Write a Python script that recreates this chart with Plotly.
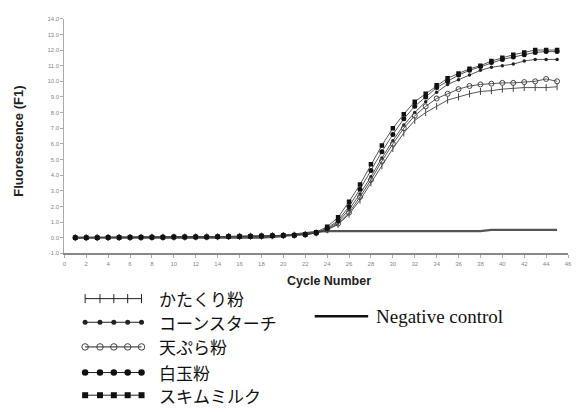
import plotly.graph_objects as go

# PCR cycles
cycles = list(range(1, 46))

# shared flat baseline for cycles 1-22
base = [0.0, 0.0, 0.0, 0.01, 0.01, 0.02, 0.02, 0.03, 0.03, 0.04, 0.04,
        0.05, 0.05, 0.06, 0.07, 0.08, 0.09, 0.10, 0.12, 0.14, 0.16, 0.20]

katakuri = base + [0.30, 0.50, 0.85, 1.5, 2.4, 3.5, 4.6, 5.7, 6.7, 7.5, 8.0,
                   8.4, 8.8, 9.0, 9.2, 9.35, 9.4, 9.5, 9.55, 9.6, 9.6, 9.6, 9.65]
cornstarch = base + [0.30, 0.55, 1.0, 1.8, 2.8, 3.9, 5.1, 6.2, 7.2, 8.0, 8.7,
                     9.3, 9.8, 10.1, 10.4, 10.7, 10.9, 11.0, 11.1, 11.3, 11.4, 11.4, 11.4]
tempura = base + [0.30, 0.50, 0.9, 1.6, 2.6, 3.7, 4.9, 6.0, 7.0, 7.8, 8.4,
                  8.9, 9.2, 9.5, 9.7, 9.8, 9.85, 9.9, 9.9, 9.95, 10.0, 10.15, 10.0]
shiratama = base + [0.30, 0.60, 1.1, 2.0, 3.1, 4.3, 5.5, 6.6, 7.6, 8.4, 9.0,
                    9.6, 10.0, 10.4, 10.7, 10.95, 11.2, 11.4, 11.55, 11.7, 11.85, 11.9, 11.9]
skim = base + [0.35, 0.70, 1.3, 2.3, 3.4, 4.7, 5.9, 7.0, 7.9, 8.7, 9.2,
               9.75, 10.2, 10.5, 10.8, 11.0, 11.3, 11.5, 11.7, 11.85, 12.0, 12.0, 12.0]
negative = [0.0] * 18 + [0.05, 0.1, 0.2, 0.3, 0.38, 0.42, 0.42, 0.42, 0.42, 0.42,
                         0.42, 0.42, 0.42, 0.42, 0.42, 0.42, 0.42, 0.42, 0.42, 0.42,
                         0.5, 0.5, 0.5, 0.5, 0.5, 0.5, 0.5]

names = ["かたくり粉", "コーンスターチ", "天ぷら粉", "白玉粉", "スキムミルク"]
series = [katakuri, cornstarch, tempura, shiratama, skim]
x_ticks = list(range(0, 47, 2))
y_ticks = list(range(-1, 15))

styles = [
    dict(symbol="line-ns-open", size=5, line=dict(width=1, color="#333")),
    dict(symbol="circle", size=3.5, color="#222"),
    dict(symbol="circle-open", size=5, color="#444", line=dict(width=1, color="#444")),
    dict(symbol="circle", size=5, color="#111"),
    dict(symbol="square", size=4.5, color="#111"),
]

W, H = 576, 412
# plot area in pixels
PL, PR, PT, PB = 63, 572, 16, 254

fig = go.Figure()

fig.add_trace(go.Scatter(x=cycles, y=negative, mode="lines",
                         line=dict(color="#555", width=2.2), showlegend=False))
for vals, st in zip(series, styles):
    fig.add_trace(go.Scatter(x=cycles, y=vals, mode="lines+markers",
                             line=dict(color="#444", width=0.9),
                             marker=st, showlegend=False))

# legend glyphs drawn on a pixel-space overlay axis
glyph_x = [84, 99, 113, 127, 141]
row_y = [300, 324, 349, 375, 398]
for name, st, gy in zip(names, styles, row_y):
    gst = dict(st)
    gst["size"] = st["size"] + 1.5
    fig.add_trace(go.Scatter(x=glyph_x, y=[gy] * len(glyph_x), mode="lines+markers",
                             line=dict(color="#222", width=1), marker=gst,
                             xaxis="x2", yaxis="y2", showlegend=False, hoverinfo="skip"))
    fig.add_annotation(x=157, y=gy, xref="x2", yref="y2", text=name, showarrow=False,
                       xanchor="left", yanchor="middle",
                       font=dict(family="Noto Sans CJK JP", size=17, color="#111"))
fig.add_trace(go.Scatter(x=[316, 370], y=[318, 318], mode="lines",
                         line=dict(color="#111", width=2.5),
                         xaxis="x2", yaxis="y2", showlegend=False, hoverinfo="skip"))
fig.add_annotation(x=376, y=318, xref="x2", yref="y2", text="Negative control",
                   showarrow=False, xanchor="left", yanchor="middle",
                   font=dict(family="Liberation Serif", size=19, color="#111"))

# axis titles
fig.add_annotation(x=330, y=282, xref="x2", yref="y2", text="<b>Cycle Number</b>",
                   showarrow=False, xanchor="center", yanchor="middle",
                   font=dict(family="Liberation Sans", size=12.5, color="#222"))
fig.add_annotation(x=17, y=140, xref="x2", yref="y2", text="<b>Fluorescence (F1)</b>",
                   showarrow=False, textangle=-90, xanchor="center", yanchor="middle",
                   font=dict(family="Liberation Sans", size=13, color="#222"))

fig.update_layout(
    width=W, height=H,
    margin=dict(l=0, r=0, t=0, b=0),
    paper_bgcolor="white", plot_bgcolor="rgba(0,0,0,0)",
    xaxis=dict(domain=[PL / W, PR / W], range=[0, 46], tickvals=x_ticks,
               showgrid=False, zeroline=False,
               showline=True, linecolor="#888", linewidth=2,
               ticks="outside", ticklen=3, tickcolor="#aaa",
               tickfont=dict(family="Liberation Sans", size=6, color="#888")),
    yaxis=dict(domain=[1 - PB / H, 1 - PT / H], range=[-1, 14], tickvals=y_ticks,
               ticktext=[f"{v:.1f}" for v in y_ticks],
               showgrid=False, zeroline=False,
               showline=True, linecolor="#aaa", linewidth=1,
               ticks="outside", ticklen=3, tickcolor="#aaa",
               tickfont=dict(family="Liberation Sans", size=6, color="#888")),
    xaxis2=dict(domain=[0, 1], range=[0, W], visible=False, anchor="y2",
                fixedrange=True),
    yaxis2=dict(domain=[0, 1], range=[H, 0], visible=False, anchor="x2",
                fixedrange=True),
)

fig.write_html("out.html")
